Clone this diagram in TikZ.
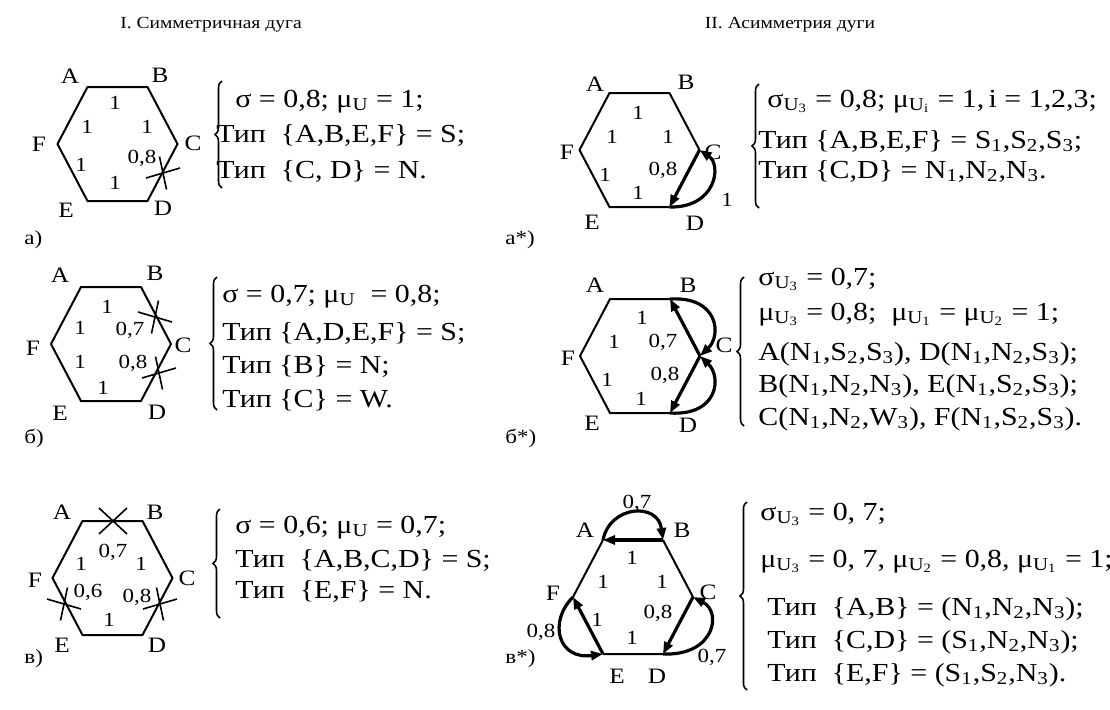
\documentclass[tikz,border=0pt]{standalone}
\usepackage{fontspec}
\setmainfont{Liberation Serif}[FakeStretch=1.15]
\usetikzlibrary{arrows.meta,decorations.pathreplacing}
\newcommand{\idx}[1]{\textsubscript{#1}}
\newcommand{\hexpts}[3]{\coordinate(#1A)at(#2-30,#3-57);\coordinate(#1B)at(#2+30,#3-57);
\coordinate(#1C)at(#2+60,#3);\coordinate(#1D)at(#2+30,#3+57);
\coordinate(#1E)at(#2-30,#3+57);\coordinate(#1F)at(#2-60,#3);}

\begin{document}
\begin{tikzpicture}[x=.5pt,y=-.5pt,
rim/.style={line width=1pt},
arr/.style={line width=1.6pt,-{Triangle[length=6pt,width=4.5pt]}},
vx/.style={inner sep=0pt,font=\fontsize{11}{12}\selectfont},
wt/.style={inner sep=0pt,font=\fontsize{10}{11}\selectfont},
sys/.style={anchor=base west,inner sep=0pt,font=\fontsize{13}{15}\selectfont},
pan/.style={anchor=base west,inner sep=0pt,font=\fontsize{10}{12}\selectfont},
ttl/.style={inner sep=0pt,font=\fontsize{8.5}{10}\selectfont},
sysbrace/.style={decorate,decoration={brace,amplitude=3.5pt},line width=.8pt},
notch/.pic={\draw[line width=.8pt](-17,5)--(17,-5)(-3.5,-16.5)--(3.5,16.5);},
notchx/.pic={\draw[line width=.8pt](-14,-13)--(14,13)(14,-13)--(-14,13);}]
\useasboundingbox(0,0)rectangle(1110,709);
\node[ttl](t1)at(211,25){I. Симметричная дуга};
\node[ttl](t2)at(790,25){II. Асимметрия дуги};
\foreach \p/\x/\y/\t in {pa/24/244/а),pb/24/443/б),pv/24/663/в),pas/505/244/а*),pbs/505/443/б*),pvs/505/663/в*)}
{\node[pan](\p)at(\x,\y){\t};}
% I a)
\hexpts{a}{117.5}{144}
\draw[rim](aA)--(aB)--(aC)--(aD)--(aE)--(aF)--cycle;
\foreach \n/\x/\y in {A/70/76,B/160/75,C/193/143,D/163/208,E/66/210,F/39/144}{\node[vx](aV\n)at(\x,\y){\n};}
\foreach \x/\y/\t [count=\i] in {115/103/1,87/127/1,147/127/1,81/165/1,142/158/{0,8},115/183/1}{\node[wt](aW\i)at(\x,\y){\t};}
\pic at(163,173){notch};
\draw[sysbrace](222,188)--(222,81);
\foreach \x/\y/\t [count=\i] in {235/107/{σ = 0,8; μ\idx{U} = 1;},216/142/{Тип\ \ \{A,B,E,F\} = S;},216/178/{Тип\ \ \{C, D\} = N.}}
{\node[sys](aT\i)at(\x,\y){\t};}
% I b)
\hexpts{b}{111}{344}
\draw[rim](bA)--(bB)--(bC)--(bD)--(bE)--(bF)--cycle;
\foreach \n/\x/\y in {A/60/275,B/155/273,C/183/345,D/157/412,E/60/413,F/33/348}{\node[vx](bV\n)at(\x,\y){\n};}
\foreach \x/\y/\t [count=\i] in {107/307/1,80/328/1,130/330/{0,7},80/362/1,133/363/{0,8},103/388/1}{\node[wt](bW\i)at(\x,\y){\t};}
\pic[xscale=-1]at(155,317){notch};
\pic at(159,373){notch};
\draw[sysbrace](217,410)--(217,277);
\foreach \x/\y/\t [count=\i] in {222/302/{σ = 0,7; μ\idx{U}\ \ = 0,8;},222/340/{Тип \{A,D,E,F\} = S;},222/373/{Тип \{B\} = N;},222/407/{Тип \{C\} = W.}}
{\node[sys](bT\i)at(\x,\y){\t};}
% I v)
\hexpts{v}{112.5}{578}
\draw[rim](vA)--(vB)--(vC)--(vD)--(vE)--(vF)--cycle;
\foreach \n/\x/\y in {A/62/512,B/155/512,C/187/578,D/157/645,E/62/645,F/35/580}{\node[vx](vV\n)at(\x,\y){\n};}
\foreach \x/\y/\t [count=\i] in {113/552/{0,7},81/564/1,141/564/1,88/592/{0,6},137/597/{0,8},109/620/1}{\node[wt](vW\i)at(\x,\y){\t};}
\pic at(113,521){notchx};
\pic[xscale=-1]at(64,604){notch};
\pic at(160,604){notch};
\draw[sysbrace](220,618)--(220,509);
\foreach \x/\y/\t [count=\i] in {235/533/{σ = 0,6; μ\idx{U} = 0,7;},235/567/{Тип\ \ \{A,B,C,D\} = S;},235/598/{Тип\ \ \{E,F\} = N.}}
{\node[sys](vT\i)at(\x,\y){\t};}
% II a*)
\hexpts{as}{639.5}{150}
\draw[rim](asC)--(asB)--(asA)--(asF)--(asE)--(asD);
\draw[arr](asC)--(asD);
\draw[arr](asD)..controls(716,208)and(722,165)..(asC);
\foreach \n/\x/\y in {A/595/84,B/686/82,C/713/152,D/695/223,E/592/222,F/567/152}{\node[vx](asV\n)at(\x,\y){\n};}
\foreach \x/\y/\t [count=\i] in {638/113/1,612/137/1,668/137/1,605/175/1,663/170/{0,8},638/193/1,727/200/1}{\node[wt](asW\i)at(\x,\y){\t};}
\draw[sysbrace](759,208)--(759,84);
\foreach \x/\y/\t [count=\i] in {767/107/{σ\idx{U\idx{3}} = 0,8; μ\idx{U\idx{i}} = 1,\,i = 1,2,3;},758/148/{Тип \{A,B,E,F\} = S\idx{1},S\idx{2},S\idx{3};},758/178/{Тип \{C,D\} = N\idx{1},N\idx{2},N\idx{3}.}}
{\node[sys](asT\i)at(\x,\y){\t};}
% II b*)
\hexpts{bs}{640}{356}
\draw[rim](bsB)--(bsA)--(bsF)--(bsE)--(bsD);
\draw[arr](bsC)--(bsB);
\draw[arr](bsC)--(bsD);
\draw[arr](bsB)..controls(718,296)and(722,335)..(bsC);
\draw[arr](bsD)..controls(718,416)and(722,377)..(bsC);
\foreach \n/\x/\y in {A/595/285,B/688/285,C/724/345,D/688/425,E/592/423,F/568/358}{\node[vx](bsV\n)at(\x,\y){\n};}
\foreach \x/\y/\t [count=\i] in {642/318/1,614/342/1,663/342/{0,7},607/380/1,665/375/{0,8},641/399/1}{\node[wt](bsW\i)at(\x,\y){\t};}
\draw[sysbrace](744,426)--(744,277);
\foreach \x/\y/\t [count=\i] in {758/285/{σ\idx{U\idx{3}} = 0,7;},758/320/{μ\idx{U\idx{3}} = 0,8;\ \ μ\idx{U\idx{1}} = μ\idx{U\idx{2}} = 1;},758/360/{A(N\idx{1},S\idx{2},S\idx{3}), D(N\idx{1},N\idx{2},S\idx{3});},758/392/{B(N\idx{1},N\idx{2},N\idx{3}), E(N\idx{1},S\idx{2},S\idx{3});},758/425/{C(N\idx{1},N\idx{2},W\idx{3}), F(N\idx{1},S\idx{2},S\idx{3}).}}
{\node[sys](bsT\i)at(\x,\y){\t};}
% II v*)
\hexpts{vs}{633}{597}
\draw[rim](vsB)--(vsC) (vsD)--(vsE) (vsF)--(vsA);
\draw[arr](vsB)--(vsA);
\draw[arr](vsC)--(vsD);
\draw[arr](vsE)--(vsF);
\draw[arr](vsA)..controls(610,505)and(658,502)..(vsB);
\draw[arr](vsD)..controls(715,656)and(722,612)..(vsC);
\draw[arr](vsF)..controls(548,622)and(558,660)..(vsE);
\foreach \n/\x/\y in {A/585/530,B/682/530,C/708/592,D/657/676,E/617/676,F/553/593}{\node[vx](vsV\n)at(\x,\y){\n};}
\foreach \x/\y/\t [count=\i] in {637/503/{0,7},632/558/1,603/582/1,662/582/1,597/620/1,658/613/{0,8},632/638/1,541/632/{0,8},712/657/{0,7}}{\node[wt](vsW\i)at(\x,\y){\t};}
\draw[sysbrace](747,690)--(747,502);
\foreach \x/\y/\t [count=\i] in {760/520/{σ\idx{U\idx{3}} = 0, 7;},760/567/{μ\idx{U\idx{3}} = 0, 7, μ\idx{U\idx{2}} = 0,8, μ\idx{U\idx{1}} = 1;},767/615/{Тип\ \ \{A,B\} = (N\idx{1},N\idx{2},N\idx{3});},767/648/{Тип\ \ \{C,D\} = (S\idx{1},N\idx{2},N\idx{3});},767/681/{Тип\ \ \{E,F\} = (S\idx{1},S\idx{2},N\idx{3}).}}
{\node[sys](vsT\i)at(\x,\y){\t};}
\end{tikzpicture}
\end{document}
